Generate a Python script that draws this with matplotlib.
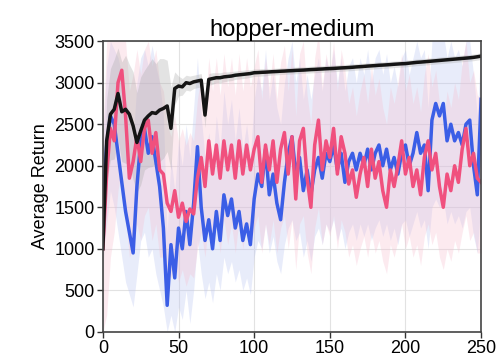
import numpy as np
import matplotlib
matplotlib.use("Agg")
import matplotlib.pyplot as plt

plt.rcParams["font.family"] = ["Liberation Sans", "DejaVu Sans"]

# training iterations (x 2.5 steps)
steps = np.arange(0, 250.1, 2.5)

blue_mean = [
    1500, 2250, 2600, 2500, 2150, 1800, 1450, 1200, 950, 1750,
    2300, 2450, 2150, 2350, 2050, 1750, 1250, 320, 1050, 650,
    1250, 1000, 1450, 1050, 1550, 2230, 1500, 1100, 1350, 1000,
    1450, 1100, 1650, 1400, 1600, 1250, 1450, 1100, 1300, 1050,
    1600, 1900, 1750, 2200, 1650, 1900, 1550, 1350, 1800, 2150,
    2350, 1900, 2100, 1700, 1950, 1650, 1950, 2100, 1850, 2150,
    2050, 2250, 1950, 2150, 1800, 2050, 2150, 1950, 2150, 2000,
    2200, 1950, 2150, 2250, 2000, 2200, 1950, 2100, 1900, 2150,
    2250, 2000, 2150, 2400, 2150, 2250, 1700, 2550, 2750, 2600,
    2750, 2300, 2500, 2300, 2400, 2250, 2500, 2550, 2000, 1650,
    2800,
]
blue_lo = [
    900, 1300, 1700, 1500, 1200, 900, 600, 450, 300, 700,
    1100, 1200, 900, 1000, 700, 500, 300, 0, 200, 0,
    300, 150, 500, 100, 500, 1100, 700, 400, 600, 350,
    700, 500, 900, 700, 850, 600, 750, 500, 650, 450,
    900, 1100, 1000, 1300, 950, 1150, 850, 700, 1050, 1250,
    1350, 1100, 1200, 900, 1100, 850, 1150, 1250, 1050, 1300,
    1200, 1350, 1100, 1250, 1000, 1200, 1300, 1100, 1300, 1150,
    1300, 1100, 1250, 1350, 1150, 1300, 1100, 1250, 1050, 1300,
    1350, 1150, 1300, 1450, 1250, 1350, 1000, 1500, 1600, 1500,
    1600, 1300, 1450, 1300, 1400, 1250, 1450, 1500, 1150, 950,
    1600,
]
blue_hi = [
    2300, 3200, 3500, 3400, 3300, 3100, 2800, 2600, 2300, 3000,
    3300, 3400, 3200, 3450, 3200, 3000, 2600, 1200, 2100, 1700,
    2300, 2000, 2500, 2100, 2700, 3300, 2600, 2100, 2400, 2000,
    2600, 2200, 2900, 2500, 2800, 2300, 2700, 2200, 2500, 2100,
    2800, 3100, 2900, 3400, 2800, 3100, 2700, 2500, 3000, 3300,
    3500, 3000, 3300, 2800, 3100, 2800, 3100, 3300, 2900, 3300,
    3100, 3400, 3000, 3300, 2900, 3200, 3300, 3000, 3300, 3100,
    3400, 3000, 3300, 3400, 3100, 3350, 3000, 3200, 2950, 3300,
    3400, 3100, 3300, 3500, 3300, 3400, 2700, 3500, 3600, 3500,
    3600, 3300, 3500, 3300, 3400, 3200, 3500, 3500, 3100, 2600,
    3500,
]

pink_mean = [
    1000, 1900, 2450, 2300, 3000, 3150, 2600, 1850, 2050, 2350,
    2050, 2450, 2550, 2150, 2400, 1950, 1900, 1550, 1450, 1700,
    1380, 1550, 1330, 1480, 1420, 1850, 2100, 1750, 2300, 1900,
    2250, 1850, 2300, 1950, 2250, 1850, 2300, 1900, 2250, 1950,
    2200, 2350, 1800, 2250, 1950, 2300, 1800, 2200, 2400, 1900,
    2350, 1600, 2300, 2450, 1850, 1500, 2250, 2550, 1950, 2300,
    2100, 2450, 1900, 2350, 2150, 1780, 1950, 1620, 1900, 2100,
    1750, 2200, 1850, 2050, 1700, 1500, 1950, 1750, 2000, 2300,
    1900, 2100, 1750, 1950, 1650, 2100, 2300, 1950, 2150, 1750,
    1500, 1900, 1700, 2000, 1800, 2200, 2450, 2000, 2150, 1850,
    1800,
]
pink_lo = [
    0, 200, 900, 1200, 1700, 2000, 1400, 900, 1000, 1300,
    1100, 1400, 1500, 1100, 1300, 900, 900, 700, 650, 850,
    600, 750, 550, 700, 650, 1000, 1200, 900, 1350, 1000,
    1300, 950, 1350, 1050, 1300, 950, 1350, 1000, 1300, 1050,
    1250, 1400, 950, 1300, 1050, 1350, 950, 1250, 1400, 1000,
    1350, 750, 1300, 1400, 950, 700, 1250, 1500, 1050, 1300,
    1150, 1400, 1000, 1350, 1200, 900, 1050, 800, 1000, 1150,
    900, 1200, 950, 1100, 850, 700, 1050, 900, 1100, 1300,
    1000, 1150, 900, 1050, 800, 1150, 1300, 1050, 1200, 900,
    750, 1000, 850, 1100, 950, 1200, 1400, 1100, 1200, 950,
    950,
]
pink_hi = [
    2400, 3500, 3600, 3500, 3600, 3600, 3500, 2900, 3100, 3400,
    3100, 3400, 3500, 3200, 3400, 3000, 2900, 2500, 2350, 2600,
    2300, 2450, 2250, 2400, 2300, 2800, 3100, 2700, 3300, 2900,
    3300, 2850, 3350, 2950, 3300, 2850, 3350, 2900, 3300, 2950,
    3200, 3400, 2800, 3300, 2950, 3350, 2800, 3250, 3450, 2900,
    3400, 2600, 3350, 3500, 2850, 2500, 3300, 3600, 2950, 3350,
    3100, 3500, 2900, 3400, 3150, 2750, 2950, 2600, 2900, 3100,
    2750, 3200, 2850, 3050, 2700, 2500, 2950, 2750, 3000, 3350,
    2900, 3100, 2750, 2950, 2650, 3100, 3350, 2950, 3150, 2750,
    2500, 2900, 2700, 3000, 2800, 3250, 3500, 3000, 3150, 2850,
    2800,
]

black_mean = [
    1000, 2300, 2620, 2680, 2870, 2650, 2680, 2620, 2480, 2280,
    2420, 2550, 2600, 2640, 2630, 2670, 2690, 2720, 2450, 2930,
    2960, 2950, 3000, 2990, 3010, 3020, 3030, 2610, 3040, 3050,
    3060, 3060, 3070, 3075, 3080, 3090, 3095, 3100, 3105, 3110,
    3120, 3122, 3125, 3127, 3130, 3133, 3135, 3138, 3140, 3143,
    3145, 3148, 3150, 3152, 3155, 3158, 3160, 3163, 3165, 3168,
    3170, 3172, 3175, 3178, 3180, 3183, 3186, 3190, 3193, 3196,
    3200, 3203, 3206, 3210, 3212, 3215, 3218, 3222, 3225, 3228,
    3230, 3235, 3240, 3245, 3248, 3252, 3256, 3260, 3264, 3268,
    3272, 3276, 3280, 3284, 3288, 3292, 3296, 3300, 3305, 3312,
    3320,
]
black_std = [
    300, 500, 550, 600, 550, 600, 650, 600, 650, 600,
    650, 600, 620, 650, 600, 620, 600, 550, 500, 200,
    120, 100, 90, 90, 80, 80, 80, 150, 70, 70,
    60, 60, 60, 55, 55, 50, 50, 50, 50, 45,
    45, 45, 45, 45, 40, 40, 40, 40, 40, 40,
    40, 40, 40, 40, 40, 40, 40, 40, 40, 40,
    40, 40, 40, 40, 40, 40, 40, 40, 40, 40,
    40, 40, 40, 40, 40, 40, 40, 40, 40, 40,
    40, 40, 40, 40, 40, 40, 40, 40, 40, 40,
    40, 40, 40, 40, 40, 40, 40, 40, 40, 40,
    40,
]

black_lo = np.array(black_mean) - np.array(black_std)
black_hi = np.array(black_mean) + np.array(black_std)

series = [
    (blue_mean, blue_lo, blue_hi, "#3b5ee6", "#b9c4f2"),
    (pink_mean, pink_lo, pink_hi, "#f0507e", "#f6bfd0"),
    (black_mean, black_lo, black_hi, "#151515", "#a9a9a9"),
]

fig = plt.figure(figsize=(4.97, 3.58), dpi=100)
ax = fig.add_axes([0.207, 0.073, 0.761, 0.812])

for mean, lo, hi, c, fc in series:
    ax.fill_between(steps, lo, hi, color=fc, alpha=0.32, linewidth=0)
for mean, lo, hi, c, fc in series:
    ax.plot(steps, mean, color=c, linewidth=2.5)

ax.set_xlim(0, 250)
ax.set_ylim(0, 3500)
ax.set_xticks([0, 50, 100, 150, 200, 250])
ax.set_yticks(range(0, 3501, 500))
ax.grid(True, color="#e2e2e2", linewidth=0.8)
ax.set_axisbelow(True)
ax.tick_params(labelsize=13, length=4, width=1, color="#333333", pad=2)
for sp in ax.spines.values():
    sp.set_color("#444444")
    sp.set_linewidth(1.2)
ax.set_ylabel("Average Return", fontsize=13, labelpad=4)
ax.set_title("hopper-medium", fontsize=17, pad=4)

fig.savefig("out.png", dpi=100)
